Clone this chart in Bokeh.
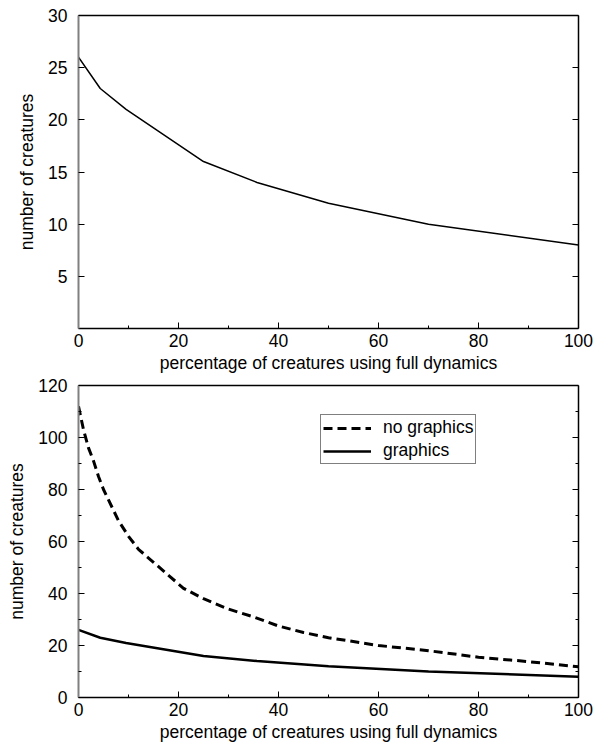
from bokeh.plotting import figure
from bokeh.models import (Range1d, LinearAxis, FixedTicker, Legend, LegendItem,
                          CustomJSTickFormatter)
from bokeh.layouts import column
from bokeh.embed import file_html
from bokeh.resources import INLINE

# ---- data ----
pct_graphics = [0, 4.35, 9.52, 25, 35.7, 50, 70, 100]
creatures_graphics = [26, 23, 21, 16, 14, 12, 10, 8]

pct_nographics = [0, 1, 2, 3, 4, 5, 6, 8, 10, 12, 15, 18, 21, 25, 30, 35, 40, 45,
                  50, 60, 70, 80, 90, 100]
creatures_nographics = [112, 103, 96, 91, 85, 80, 76, 68, 62, 57, 52, 47, 42, 38,
                        34, 31, 27.5, 25, 23, 20, 18, 15.5, 13.8, 11.8]

x_ticks = [0, 20, 40, 60, 80, 100]
x_minor = [10, 30, 50, 70, 90]
top_y_ticks = [5, 10, 15, 20, 25, 30]
bot_y_ticks = [0, 20, 40, 60, 80, 100, 120]
bot_y_minor = [10, 30, 50, 70, 90, 110]

x_label = "percentage of creatures using full dynamics"
y_label = "number of creatures"

FONT = "Liberation Sans"
FS = "17.5px"


def style_main_axis(ax):
    ax.major_tick_in = 6
    ax.major_tick_out = 0
    ax.minor_tick_in = 3
    ax.minor_tick_out = 0
    ax.major_tick_line_color = "black"
    ax.minor_tick_line_color = "black"
    ax.major_tick_line_width = 1
    ax.minor_tick_line_width = 1
    ax.major_label_text_font = FONT
    ax.major_label_text_font_size = FS
    ax.major_label_text_color = "black"
    ax.axis_label_text_font = FONT
    ax.axis_label_text_font_size = FS
    ax.axis_label_text_font_style = "normal"
    ax.axis_label_text_color = "black"


def style_blank_axis(ax, ticks=True):
    ax.formatter = CustomJSTickFormatter(code="return ''")
    ax.major_label_standoff = 0
    ax.axis_line_color = "black"
    ax.axis_line_width = 1.5
    ax.major_tick_out = 0
    ax.minor_tick_out = 0
    ax.major_tick_in = 6 if ticks else 0
    ax.minor_tick_in = 3 if ticks else 0
    ax.major_tick_line_color = "black" if ticks else None
    ax.minor_tick_line_color = "black" if ticks else None


def make_fig(y_max, y_ticks, y_minor, frame_h, top_border, bottom_border):
    p = figure(frame_width=500, frame_height=frame_h,
               x_range=Range1d(0, 100), y_range=Range1d(0, y_max),
               output_backend="svg", toolbar_location=None,
               min_border_left=78, min_border_right=16,
               min_border_top=top_border, min_border_bottom=bottom_border)
    p.outline_line_color = None
    p.xgrid.grid_line_color = None
    p.ygrid.grid_line_color = None
    p.background_fill_color = "white"
    p.border_fill_color = "white"

    xa = p.xaxis[0]
    xa.ticker = FixedTicker(ticks=x_ticks, minor_ticks=x_minor)
    style_main_axis(xa)
    xa.axis_line_color = "black"
    xa.axis_line_width = 1.5
    xa.major_label_standoff = 5
    xa.axis_label_standoff = 3
    xa.axis_label = x_label

    ya = p.yaxis[0]
    ya.ticker = FixedTicker(ticks=y_ticks, minor_ticks=y_minor)
    style_main_axis(ya)
    ya.axis_line_color = "#808080"
    ya.axis_line_width = 2
    ya.major_label_standoff = 11
    ya.axis_label_standoff = 8
    ya.axis_label = y_label

    ra = LinearAxis(ticker=FixedTicker(ticks=y_ticks, minor_ticks=y_minor))
    style_blank_axis(ra)
    p.add_layout(ra, "right")

    ta = LinearAxis(ticker=FixedTicker(ticks=[], minor_ticks=[]))
    style_blank_axis(ta, ticks=False)
    p.add_layout(ta, "above")
    return p


p1 = make_fig(30, top_y_ticks, [], 313, 15, 47)
p1.line(pct_graphics, creatures_graphics, line_color="black", line_width=1.5)

p2 = make_fig(120, bot_y_ticks, bot_y_minor, 312, 10, 47)
r_ng = p2.line(pct_nographics, creatures_nographics, line_color="black",
               line_width=3, line_dash="9 5")
r_g = p2.line(pct_graphics, creatures_graphics, line_color="black", line_width=2.5)

legend = Legend(items=[LegendItem(label="no graphics", renderers=[r_ng]),
                       LegendItem(label="graphics", renderers=[r_g])],
                location=(242, 233))
legend.label_text_font = FONT
legend.label_text_font_size = FS
legend.label_text_color = "black"
legend.border_line_color = "black"
legend.border_line_width = 1
legend.background_fill_alpha = 1
legend.padding = 2
legend.spacing = 2
legend.margin = 0
legend.glyph_width = 48
legend.glyph_height = 20
legend.label_height = 20
legend.label_standoff = 12
p2.add_layout(legend, "center")

layout = column(p1, p2, spacing=0)
open("out.html", "w").write(file_html(layout, INLINE))
